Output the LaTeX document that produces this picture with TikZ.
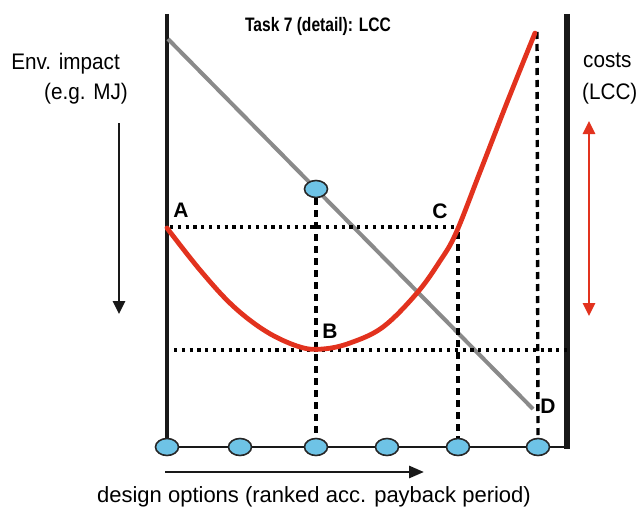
\documentclass[tikz,border=0pt]{standalone}
\usepackage{fontspec}
\setmainfont{Liberation Sans}
\newfontfamily\narrowsans[FakeStretch=0.8]{Liberation Sans}
\newfontfamily\labelsans[FakeStretch=0.92]{Liberation Sans}
\usetikzlibrary{arrows.meta,shapes.geometric}
\definecolor{curvered}{HTML}{E2321E}
\definecolor{optblue}{HTML}{6EC3E6}
\definecolor{lccgray}{HTML}{8A8A8A}
\tikzset{
  axisline/.style={line width=4pt, black!90},
  option/.style={ellipse, draw=black!85, line width=1.6pt, fill=optblue,
    minimum width=23pt, minimum height=17pt, inner sep=0pt},
  dotline/.style={line width=3.4pt, dash pattern=on 3.2pt off 4.6pt},
  dashline/.style={line width=3.4pt, dash pattern=on 7pt off 5pt},
  pointlabel/.style={font=\fontsize{21}{23}\selectfont\bfseries, inner sep=0pt},
  axislabel/.style={font=\labelsans\fontsize{22.5}{25}\selectfont, inner sep=0pt},
}
\begin{document}
\begin{tikzpicture}[x=1pt,y=-1pt]
\useasboundingbox (0,0) rectangle (640,511);

% vertical frame lines
\coordinate (ltop) at (167,14);
\coordinate (lbot) at (167,447);
\coordinate (rtop) at (567,14);
\coordinate (rbot) at (567,449);
\draw[axisline] (ltop) -- (lbot);
\draw[line width=5.5pt, black!90] (rtop) -- (rbot);

% baseline with design options
\coordinate (base0) at (167,447);
\coordinate (base1) at (567,447);
\draw[line width=2pt, black!90] (base0) -- (base1);

% gray LCC line
\coordinate (gtop) at (168,39);
\coordinate (gbot) at (533,409);
\draw[line width=4pt, lccgray] (gtop) -- (gbot);

% dotted reference levels
\coordinate (dA) at (170,227);
\coordinate (dC) at (456,227);
\coordinate (dB0) at (174,350);
\coordinate (dB1) at (567,350);
\draw[dotline] (dA) -- (dC);
\draw[dotline] (dB0) -- (dB1);

% option nodes
\node[option] (o1) at (167,447) {};
\node[option] (o2) at (240,447) {};
\node[option] (o3) at (316,447) {};
\node[option] (o4) at (387,447) {};
\node[option] (o5) at (458,447) {};
\node[option] (o6) at (538,447) {};
\node[option] (ob) at (316,189) {};

% dashed projections
\coordinate (cC) at (458,232);
\coordinate (cTop) at (537,32);
\draw[dashline] (ob.south) -- (o3.north);
\draw[dashline] (cC) -- (o5.north);
\draw[dashline] (cTop) -- (o6.north);

% red environmental impact curve
\draw[curvered, line width=4.8pt, line cap=round, line join=round]
  plot[smooth, tension=0.6] coordinates {
    (167,228) (200,270) (233,306) (267,332) (300,347) (323,349)
    (350,343) (383,327) (417,293) (440,261) (456,233) (480,172)
    (508,100) (535,33)};

% point labels
\node[pointlabel] (A) at (181,210) {A};
\node[pointlabel] (B) at (330,331) {B};
\node[pointlabel] (C) at (440,211) {C};
\node[pointlabel] (D) at (548,406) {D};

% title
\node[font=\narrowsans\fontsize{19.5}{22}\selectfont\bfseries, inner sep=0pt] (title) at (318,26) {Task 7 (detail): LCC};

% left axis description
\node[axislabel, anchor=north east] (env) at (120,53) {Env. impact};
\node[axislabel, anchor=north east] (eg) at (128,83) {(e.g. MJ)};
\coordinate (ea0) at (119,123);
\coordinate (ea1) at (119,314);
\draw[line width=2.6pt, black!90, -{Triangle[width=12pt,length=13pt]}] (ea0) -- (ea1);

% right axis description
\node[axislabel, anchor=north west] (costs) at (583,53) {costs};
\node[axislabel, anchor=north west] (lcc) at (582,83) {(LCC)};
\coordinate (ca0) at (589,121);
\coordinate (ca1) at (589,316);
\draw[line width=2.6pt, curvered, {Triangle[width=12pt,length=13pt]}-{Triangle[width=12pt,length=13pt]}] (ca0) -- (ca1);

% ranking direction
\coordinate (ra0) at (165,472);
\coordinate (ra1) at (424,472);
\draw[line width=2.8pt, black!90, -{Triangle[width=12pt,length=15pt]}] (ra0) -- (ra1);
\node[font=\fontsize{22}{25}\selectfont, inner sep=0pt] (xlabel) at (314,497) {design options (ranked acc. payback period)};
\end{tikzpicture}
\end{document}
